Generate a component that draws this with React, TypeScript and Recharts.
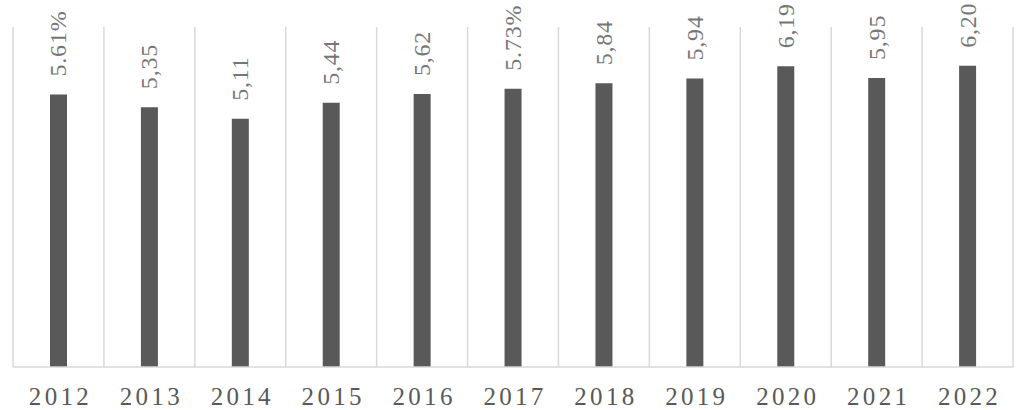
import { Bar, BarChart, CartesianGrid, LabelList, XAxis, YAxis } from "recharts";

const years = ["2012", "2013", "2014", "2015", "2016", "2017", "2018", "2019", "2020", "2021", "2022"];
const rates = [5.61, 5.35, 5.11, 5.44, 5.62, 5.73, 5.84, 5.94, 6.19, 5.95, 6.2];
const rateLabels = ["5.61%", "5,35", "5,11", "5,44", "5,62", "5.73%", "5,84", "5,94", "6,19", "5,95", "6,20"];

const data = years.map((year, i) => ({ year, rate: rates[i], label: rateLabels[i] }));

const FONT = "'Liberation Serif', 'Times New Roman', serif";
const GRID = "#d9d9d9";
const BAR = "#595959";

const RotatedLabel = (props: any) => {
  const { x, y, width, value } = props;
  const cx = x + width / 2;
  const cy = y - 18;
  return (
    <text
      x={cx}
      y={cy}
      transform={`rotate(-90, ${cx}, ${cy})`}
      textAnchor="start"
      dominantBaseline="central"
      fontFamily={FONT}
      fontSize={24}
      letterSpacing={0.8}
      fill="#767676"
    >
      {value}
    </text>
  );
};

const YearTick = (props: any) => {
  const { x, y, payload } = props;
  return (
    <text
      x={x + 2}
      y={y}
      dy={30}
      textAnchor="middle"
      fontFamily={FONT}
      fontSize={25}
      letterSpacing={3.3}
      fill={BAR}
    >
      {payload.value}
    </text>
  );
};

export default function App() {
  return (
    <div style={{ position: "absolute", left: 0, top: 0, background: "#fff" }}>
      <BarChart
        width={1024}
        height={410}
        data={data}
        margin={{ top: 27, right: 11, left: 13, bottom: 0 }}
        barCategoryGap={0}
      >
        <CartesianGrid
          stroke={GRID}
          strokeWidth={1.5}
          horizontal={false}
          verticalCoordinatesGenerator={({ offset }: any) =>
            Array.from({ length: years.length + 1 }, (_, i) => offset.left + (i * offset.width) / years.length)
          }
        />
        <XAxis
          dataKey="year"
          height={43}
          tickLine={false}
          axisLine={{ stroke: GRID, strokeWidth: 1.5 }}
          tick={<YearTick />}
          interval={0}
        />
        <YAxis hide domain={[0, 7]} />
        <Bar dataKey="rate" fill={BAR} barSize={17} isAnimationActive={false}>
          <LabelList dataKey="label" content={<RotatedLabel />} />
        </Bar>
      </BarChart>
    </div>
  );
}
